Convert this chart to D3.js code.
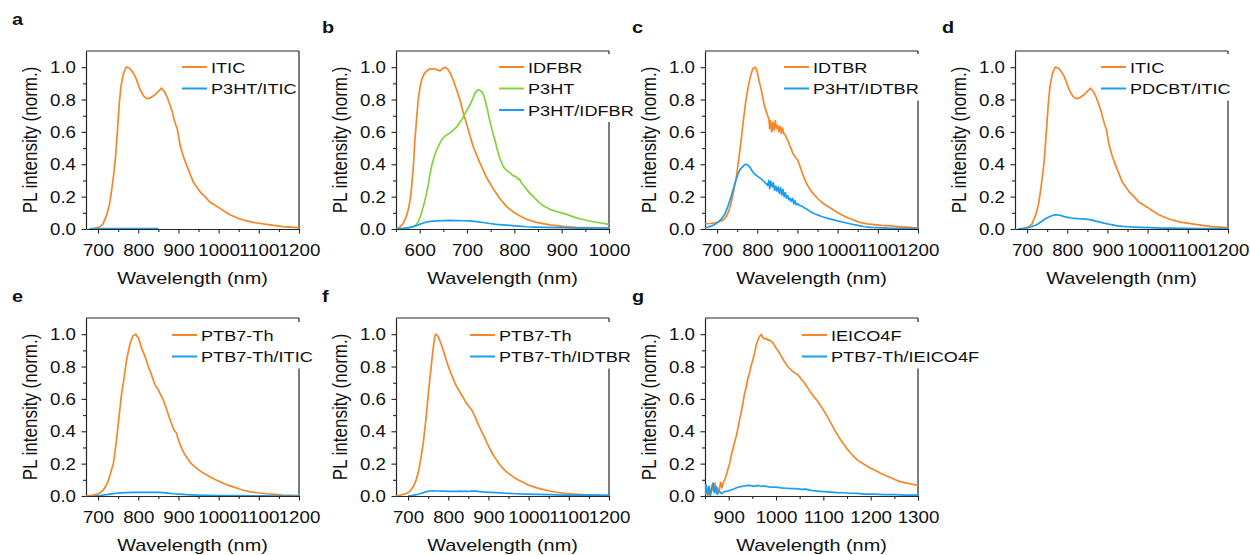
<!DOCTYPE html>
<html><head><meta charset="utf-8">
<script src="https://cdn.jsdelivr.net/npm/d3@7"></script>
<style>
body{margin:0;background:#fff}
svg{display:block}
text{font-family:"Liberation Sans",Arial,Helvetica,sans-serif;fill:#111}
</style>
</head><body>
<svg id="chart" width="1250" height="555"></svg>
<script>
// ---------------- DATA (wavelength nm, normalized PL) ----------------
const panelLetters = ["a","b","c","d","e","f","g"];
const yTickLabels = ["0.0","0.2","0.4","0.6","0.8","1.0"];
const xTicksA = [700,800,900,1000,1100,1200];
const xTicksB = [600,700,800,900,1000];
const xTicksG = [900,1000,1100,1200,1300];

const iticPL = [[677,0],[690,0.003],[702,0.01],[712,0.03],[722,0.09],[729,0.16],[735,0.26],[740,0.36],[744,0.46],[748,0.6],[753,0.78],[757,0.88],[763,0.96],[770,1.0],[778,0.995],[786,0.97],[793,0.94],[805,0.86],[814,0.82],[822,0.805],[830,0.81],[836,0.82],[842,0.83],[850,0.85],[858,0.87],[865,0.85],[871,0.82],[877,0.78],[884,0.73],[890,0.67],[894,0.64],[897,0.62],[904,0.52],[912,0.45],[921,0.39],[937,0.29],[954,0.23],[966,0.2],[979,0.165],[999,0.135],[1014,0.11],[1028,0.088],[1053,0.062],[1070,0.05],[1086,0.041],[1119,0.029],[1160,0.015],[1200,0.008]];
const p3htIticPL = [[680,0.002],[720,0.002],[760,0.002],[800,0.002],[850,0.002]];

const idfbrPL = [[550,0],[558,0.01],[565,0.035],[571,0.07],[576,0.12],[580,0.18],[583,0.26],[587,0.4],[590,0.55],[594,0.7],[597,0.8],[601,0.88],[605,0.93],[610,0.96],[616,0.98],[622,0.99],[630,0.99],[636,0.985],[643,0.977],[650,0.995],[654,1.0],[660,0.985],[666,0.955],[671,0.92],[678,0.86],[685,0.8],[692,0.72],[699,0.65],[706,0.58],[713,0.51],[720,0.46],[727,0.41],[741,0.32],[755,0.25],[769,0.19],[783,0.14],[797,0.107],[812,0.08],[826,0.06],[847,0.041],[875,0.025],[903,0.016],[931,0.01],[1000,0.006]];
const p3htPL = [[572,0.003],[586,0.014],[592,0.025],[597,0.045],[603,0.09],[608,0.14],[613,0.2],[618,0.27],[622,0.34],[626,0.4],[631,0.45],[636,0.49],[641,0.52],[646,0.55],[652,0.57],[657,0.58],[667,0.6],[678,0.63],[688,0.67],[699,0.73],[705,0.76],[710,0.79],[717,0.84],[721,0.855],[725,0.86],[731,0.85],[735,0.83],[738,0.8],[743,0.74],[748,0.67],[754,0.6],[759,0.55],[764,0.49],[769,0.44],[776,0.39],[781,0.37],[787,0.355],[792,0.345],[797,0.33],[802,0.325],[805,0.32],[808,0.305],[811,0.31],[814,0.29],[819,0.27],[826,0.245],[833,0.22],[840,0.2],[847,0.18],[854,0.16],[861,0.144],[870,0.13],[878,0.118],[887,0.11],[896,0.103],[905,0.095],[914,0.087],[922,0.078],[931,0.069],[948,0.057],[966,0.045],[983,0.037],[1000,0.029]];
const p3htIdfbrPL = [[550,0.001],[565,0.004],[580,0.01],[590,0.018],[601,0.03],[611,0.04],[622,0.047],[636,0.05],[650,0.052],[664,0.053],[678,0.052],[692,0.051],[706,0.05],[720,0.045],[734,0.04],[748,0.034],[762,0.029],[776,0.026],[790,0.023],[808,0.018],[826,0.014],[843,0.012],[861,0.01],[896,0.008],[931,0.006],[966,0.005],[1000,0.004]];

const idtbrPL = [[670,0.031],[682,0.034],[694,0.038],[703,0.043],[710,0.05],[717,0.06],[723,0.076],[729,0.11],[735,0.16],[741,0.23],[748,0.32],[754,0.43],[760,0.55],[766,0.68],[772,0.8],[777,0.87],[781,0.92],[785,0.96],[789,0.99],[795,1.0],[798,0.985],[801,0.96],[805,0.91],[810,0.86],[814,0.81],[818,0.76],[822,0.73],[826,0.7],[829,0.68],[831,0.62],[833,0.67],[836,0.6],[839,0.66],[842,0.61],[845,0.67],[848,0.62],[851,0.64],[854,0.6],[857,0.635],[860,0.59],[863,0.625],[866,0.59],[870,0.58],[873,0.56],[876,0.55],[880,0.52],[884,0.5],[888,0.47],[892,0.455],[896,0.44],[900,0.43],[906,0.39],[913,0.34],[919,0.3],[925,0.27],[933,0.24],[942,0.21],[950,0.19],[958,0.17],[970,0.148],[983,0.128],[995,0.11],[1008,0.09],[1020,0.075],[1033,0.062],[1045,0.05],[1058,0.039],[1074,0.032],[1091,0.027],[1110,0.022],[1132,0.019],[1150,0.015],[1173,0.011],[1200,0.006]];
const p3htIdtbrPL = [[670,0.008],[678,0.012],[686,0.019],[694,0.028],[702,0.041],[710,0.06],[719,0.09],[727,0.14],[735,0.2],[743,0.27],[752,0.34],[758,0.37],[764,0.385],[769,0.398],[772,0.4],[776,0.395],[781,0.385],[787,0.36],[793,0.34],[801,0.325],[810,0.31],[816,0.295],[822,0.28],[826,0.27],[829,0.3],[831,0.25],[834,0.295],[837,0.26],[840,0.285],[843,0.24],[846,0.265],[849,0.235],[852,0.26],[855,0.22],[858,0.255],[861,0.21],[864,0.245],[867,0.2],[870,0.225],[873,0.19],[876,0.205],[879,0.18],[882,0.19],[885,0.17],[888,0.19],[891,0.155],[894,0.175],[897,0.15],[901,0.155],[906,0.145],[912,0.14],[918,0.13],[925,0.12],[937,0.1],[950,0.087],[962,0.076],[975,0.066],[988,0.058],[1000,0.05],[1017,0.04],[1033,0.031],[1050,0.022],[1066,0.014],[1083,0.01],[1099,0.008],[1124,0.005],[1149,0.004],[1175,0.003],[1200,0.002]];

const pdcbtIticPL = [[678,0.001],[694,0.004],[702,0.008],[711,0.014],[719,0.022],[727,0.031],[735,0.045],[744,0.06],[750,0.069],[756,0.076],[762,0.082],[768,0.087],[775,0.087],[781,0.085],[787,0.081],[793,0.076],[801,0.072],[810,0.068],[818,0.066],[826,0.064],[838,0.062],[851,0.06],[860,0.056],[868,0.05],[876,0.046],[884,0.041],[892,0.036],[901,0.031],[913,0.025],[925,0.019],[938,0.016],[950,0.014],[966,0.012],[983,0.01],[1008,0.008],[1033,0.006],[1062,0.005],[1091,0.004],[1140,0.003],[1200,0.002]];

const ptb7thPL = [[670,0.0],[684,0.004],[697,0.01],[705,0.02],[713,0.037],[719,0.06],[725,0.09],[731,0.14],[738,0.2],[742,0.27],[746,0.35],[750,0.44],[754,0.53],[758,0.62],[763,0.7],[767,0.77],[771,0.84],[775,0.89],[779,0.935],[783,0.965],[787,0.99],[791,0.995],[794,1.0],[797,0.985],[800,0.98],[804,0.95],[808,0.915],[814,0.88],[820,0.84],[826,0.795],[833,0.75],[837,0.72],[841,0.69],[845,0.675],[849,0.66],[855,0.63],[862,0.595],[868,0.555],[874,0.51],[880,0.465],[887,0.42],[891,0.4],[895,0.39],[899,0.355],[903,0.325],[909,0.29],[915,0.26],[923,0.23],[932,0.2],[942,0.178],[953,0.157],[965,0.137],[977,0.12],[990,0.104],[1002,0.089],[1015,0.076],[1027,0.064],[1040,0.053],[1052,0.043],[1064,0.034],[1077,0.027],[1097,0.02],[1118,0.014],[1139,0.01],[1159,0.006],[1180,0.004],[1200,0.002]];
const ptb7thIticPL = [[690,0.0],[705,0.003],[721,0.008],[734,0.013],[746,0.017],[758,0.019],[771,0.021],[787,0.022],[804,0.023],[820,0.023],[837,0.023],[850,0.022],[862,0.021],[874,0.018],[887,0.014],[903,0.011],[919,0.008],[944,0.006],[969,0.004],[1002,0.003],[1035,0.002],[1100,0.001],[1200,0.0]];

const ptb7thBPL = [[670,0.0],[684,0.007],[697,0.017],[705,0.03],[713,0.058],[719,0.09],[725,0.14],[731,0.22],[738,0.33],[742,0.42],[746,0.51],[750,0.62],[754,0.72],[758,0.81],[761,0.88],[764,0.94],[767,0.99],[769,1.0],[772,0.995],[775,0.985],[779,0.96],[783,0.935],[789,0.89],[795,0.84],[801,0.795],[808,0.75],[814,0.715],[820,0.68],[826,0.655],[833,0.626],[839,0.6],[845,0.574],[851,0.555],[858,0.533],[864,0.505],[870,0.47],[876,0.435],[883,0.4],[887,0.38],[891,0.357],[897,0.325],[903,0.295],[911,0.258],[920,0.223],[928,0.195],[936,0.17],[948,0.143],[961,0.12],[973,0.1],[986,0.085],[998,0.07],[1011,0.058],[1023,0.049],[1035,0.041],[1052,0.031],[1069,0.023],[1090,0.016],[1110,0.012],[1135,0.008],[1159,0.006],[1180,0.004],[1200,0.002]];
const ptb7thIdtbrPL = [[700,0.0],[712,0.004],[721,0.008],[730,0.014],[738,0.021],[746,0.027],[754,0.031],[762,0.032],[771,0.031],[787,0.03],[804,0.029],[820,0.029],[833,0.03],[837,0.028],[845,0.03],[850,0.028],[857,0.031],[862,0.03],[870,0.03],[878,0.027],[887,0.025],[903,0.023],[920,0.021],[944,0.017],[969,0.014],[994,0.012],[1019,0.01],[1052,0.008],[1085,0.006],[1140,0.005],[1200,0.004]];

const ieico4fPL = [[850,0.02],[853,0.05],[856,0.0],[859,0.06],[862,0.015],[865,0.065],[868,0.03],[871,0.08],[874,0.02],[877,0.05],[880,0.03],[883,0.085],[886,0.05],[889,0.09],[892,0.1],[895,0.13],[898,0.16],[902,0.2],[905,0.244],[909,0.29],[912,0.326],[916,0.37],[919,0.41],[923,0.47],[926,0.51],[930,0.57],[933,0.626],[937,0.67],[940,0.72],[944,0.76],[947,0.8],[951,0.84],[955,0.884],[958,0.93],[962,0.967],[965,0.985],[969,1.0],[972,0.98],[976,0.97],[979,0.975],[983,0.963],[986,0.965],[990,0.957],[995,0.94],[1000,0.915],[1006,0.89],[1011,0.864],[1018,0.83],[1025,0.8],[1030,0.785],[1035,0.77],[1040,0.76],[1046,0.75],[1053,0.725],[1060,0.7],[1067,0.668],[1074,0.636],[1081,0.61],[1088,0.585],[1095,0.555],[1102,0.523],[1109,0.487],[1116,0.45],[1123,0.413],[1130,0.378],[1137,0.345],[1144,0.316],[1151,0.288],[1158,0.264],[1165,0.242],[1172,0.223],[1179,0.208],[1186,0.196],[1193,0.184],[1200,0.171],[1210,0.157],[1221,0.14],[1231,0.127],[1242,0.114],[1252,0.1],[1263,0.089],[1274,0.081],[1285,0.074],[1292,0.07],[1300,0.066]];
const ptb7thIeico4fPL = [[850,0.005],[852,0.07],[855,0.01],[858,0.06],[861,0.0],[864,0.04],[867,0.08],[870,0.02],[873,0.06],[876,0.01],[880,0.03],[885,0.015],[891,0.027],[898,0.03],[905,0.037],[912,0.045],[919,0.054],[926,0.058],[933,0.062],[940,0.066],[947,0.064],[954,0.06],[961,0.066],[968,0.06],[975,0.062],[982,0.058],[990,0.054],[1000,0.055],[1011,0.05],[1022,0.048],[1032,0.045],[1043,0.046],[1053,0.041],[1063,0.042],[1074,0.035],[1088,0.03],[1102,0.027],[1116,0.024],[1130,0.021],[1144,0.02],[1158,0.017],[1172,0.016],[1186,0.012],[1207,0.011],[1228,0.008],[1250,0.008],[1275,0.006],[1300,0.006]];

const seriesNamesA = ["ITIC","P3HT/ITIC"];
const seriesNamesB = ["IDFBR","P3HT","P3HT/IDFBR"];
const seriesNamesC = ["IDTBR","P3HT/IDTBR"];
const seriesNamesD = ["ITIC","PDCBT/ITIC"];
const seriesNamesE = ["PTB7-Th","PTB7-Th/ITIC"];
const seriesNamesF = ["PTB7-Th","PTB7-Th/IDTBR"];
const seriesNamesG = ["IEICO4F","PTB7-Th/IEICO4F"];

// ---------------- STYLE / LAYOUT ----------------
const ORANGE = "#F5872A", GREEN = "#80D33C", BLUE = "#1B9DF2";
const SX = 1.17; // horizontal stretch of text in the reference
const W = 213, H = 178;

const panels = [
  {letter:panelLetters[0], left:86,  top:51,  lab:[12,25],  domain:[670,1200], ticks:xTicksA, names:seriesNamesA, data:[iticPL,p3htIticPL], colors:[ORANGE,BLUE], leg:[182,67]},
  {letter:panelLetters[1], left:396, top:51,  lab:[322,33], domain:[550,1000], ticks:xTicksB, names:seriesNamesB, data:[idfbrPL,p3htPL,p3htIdfbrPL], colors:[ORANGE,GREEN,BLUE], leg:[499,67]},
  {letter:panelLetters[2], left:705, top:51,  lab:[632,33], domain:[670,1200], ticks:xTicksA, names:seriesNamesC, data:[idtbrPL,p3htIdtbrPL], colors:[ORANGE,BLUE], leg:[784,67]},
  {letter:panelLetters[3], left:1015,top:51,  lab:[942,33], domain:[670,1200], ticks:xTicksA, names:seriesNamesD, data:[iticPL,pdcbtIticPL], colors:[ORANGE,BLUE], leg:[1101,67]},
  {letter:panelLetters[4], left:86,  top:318, lab:[12,302], domain:[670,1200], ticks:xTicksA, names:seriesNamesE, data:[ptb7thPL,ptb7thIticPL], colors:[ORANGE,BLUE], leg:[172,335]},
  {letter:panelLetters[5], left:396, top:318, lab:[322,302],domain:[670,1200], ticks:xTicksA, names:seriesNamesF, data:[ptb7thBPL,ptb7thIdtbrPL], colors:[ORANGE,BLUE], leg:[470,335]},
  {letter:panelLetters[6], left:705, top:318, lab:[632,302],domain:[850,1300], ticks:xTicksG, names:seriesNamesG, data:[ieico4fPL,ptb7thIeico4fPL], colors:[ORANGE,BLUE], leg:[802,335]}
];

const svg = d3.select("#chart");
const AX = "#262626";

function sText(parent, x, y, str, size, anchor, weight, rotate){
  const g = parent.append("g").attr("transform", `translate(${x},${y})`);
  const t = g.append("text").text(str)
    .attr("font-size", size).attr("text-anchor", anchor || "start")
    .attr("font-weight", weight || "normal")
    .attr("transform", rotate ? `scale(${SX},1) rotate(-90)` : `scale(${SX},1)`);
  return t;
}

panels.forEach((p, pi) => {
  const x = d3.scaleLinear().domain(p.domain).range([p.left, p.left + W]);
  const y = d3.scaleLinear().domain([0, 1.1]).range([p.top + H, p.top]);
  const g = svg.append("g");

  // clip
  const cid = "clip" + pi;
  svg.append("clipPath").attr("id", cid).append("rect")
    .attr("x", p.left).attr("y", p.top).attr("width", W).attr("height", H);

  // frame (top and right spines)
  g.append("line").attr("x1", p.left).attr("x2", p.left + W).attr("y1", p.top).attr("y2", p.top)
    .attr("stroke", AX).attr("stroke-width", 1.2);
  g.append("line").attr("x1", p.left + W).attr("x2", p.left + W).attr("y1", p.top).attr("y2", p.top + H)
    .attr("stroke", AX).attr("stroke-width", 1.2);

  // minor ticks
  const minorX = d3.range(Math.ceil(p.domain[0] / 50) * 50, p.domain[1] + 1, 50).filter(v => v % 100 !== 0);
  g.append("g").attr("transform", `translate(0,${p.top + H})`)
    .call(d3.axisBottom(x).tickValues(minorX).tickSize(3).tickFormat(""))
    .call(s => { s.select(".domain").remove(); s.selectAll("line").attr("stroke", AX).attr("stroke-width", 1.1); });
  g.append("g").attr("transform", `translate(${p.left},0)`)
    .call(d3.axisLeft(y).tickValues([0.1,0.3,0.5,0.7,0.9]).tickSize(3).tickFormat(""))
    .call(s => { s.select(".domain").remove(); s.selectAll("line").attr("stroke", AX).attr("stroke-width", 1.1); });

  // major axes
  const xa = g.append("g").attr("transform", `translate(0,${p.top + H})`)
    .call(d3.axisBottom(x).tickValues(p.ticks).tickSize(4.5).tickSizeOuter(0).tickFormat(d3.format("d")));
  xa.select(".domain").attr("stroke", AX).attr("stroke-width", 1.2);
  xa.selectAll(".tick line").attr("stroke", AX).attr("stroke-width", 1.1);
  xa.selectAll(".tick text").attr("font-size", 16).attr("fill", "#111")
    .attr("font-family", '"Liberation Sans",Arial,sans-serif')
    .attr("y", 0).attr("dy", 0).attr("transform", `translate(0,27) scale(${SX},1)`);

  const ya = g.append("g").attr("transform", `translate(${p.left},0)`)
    .call(d3.axisLeft(y).tickValues([0,0.2,0.4,0.6,0.8,1.0]).tickSize(4.5).tickSizeOuter(0)
      .tickFormat((d, i) => yTickLabels[i]));
  ya.select(".domain").attr("stroke", AX).attr("stroke-width", 1.2);
  ya.selectAll(".tick line").attr("stroke", AX).attr("stroke-width", 1.1);
  ya.selectAll(".tick text").attr("font-size", 16).attr("fill", "#111")
    .attr("font-family", '"Liberation Sans",Arial,sans-serif')
    .attr("x", 0).attr("dy", "0.35em").attr("transform", `translate(-10,0) scale(${SX},1)`);

  // axis titles
  sText(g, p.left + W / 2, p.top + H + 54.5, "Wavelength (nm)", 17, "middle");
  sText(g, p.left - 49, p.top + H / 2, "PL intensity (norm.)", 17, "middle", "normal", true);

  // panel letter
  sText(g, p.lab[0], p.lab[1], p.letter, 17, "start", "bold");

  // data lines
  const line = d3.line().x(d => x(d[0])).y(d => y(d[1])).curve(d3.curveLinear);
  const lg = g.append("g").attr("clip-path", `url(#${cid})`);
  p.data.forEach((ser, si) => {
    lg.append("path").datum(ser).attr("d", line)
      .attr("fill", "none").attr("stroke", p.colors[si]).attr("stroke-width", 1.7)
      .attr("stroke-linejoin", "round");
  });

  // legend
  const leg = g.append("g");
  const box = leg.append("rect").attr("fill", "#fff");
  const rowH = 21.5;
  let maxEnd = 0;
  p.names.forEach((nm, i) => {
    const yy = p.leg[1] + i * rowH;
    leg.append("line").attr("x1", p.leg[0]).attr("x2", p.leg[0] + 25).attr("y1", yy).attr("y2", yy)
      .attr("stroke", p.colors[i]).attr("stroke-width", 2);
    const t = sText(leg, p.leg[0] + 29, yy + 5.5, nm, 15.5, "start");
    const end = p.leg[0] + 29 + t.node().getComputedTextLength() * SX;
    maxEnd = Math.max(maxEnd, end);
  });
  box.attr("x", p.leg[0] - 2).attr("y", p.leg[1] - 13)
    .attr("width", maxEnd + 1 - (p.leg[0] - 2))
    .attr("height", (p.names.length - 1) * rowH + 25);
});
</script>
</body></html>
